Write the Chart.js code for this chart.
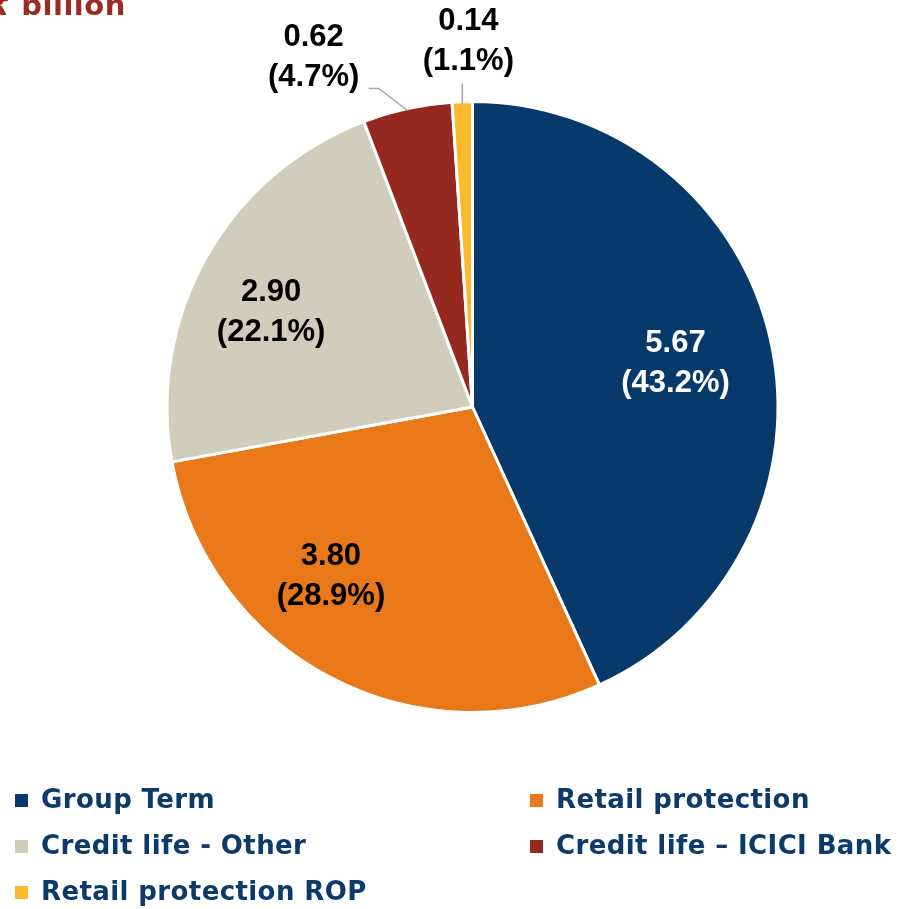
<!DOCTYPE html>
<html>
<head>
<meta charset="utf-8">
<script src="https://cdn.jsdelivr.net/npm/chart.js@4.4.1/dist/chart.umd.min.js"></script>
<style>
  body { margin: 0; background: #fff; overflow: hidden; }
  #wrap { position: relative; width: 905px; height: 909px; }
  #title { position: absolute; left: -10px; top: -12px; font: bold 29px "DejaVu Sans"; color: #9E2B22; letter-spacing: 0.5px; white-space: nowrap; }
  #legend { position: absolute; left: 15px; top: 782px; width: 890px; display: grid; grid-template-columns: 515px 375px; row-gap: 12px; }
  .item { font: bold 26px "DejaVu Sans"; color: #0B3A6B; letter-spacing: 0.4px; white-space: nowrap; height: 34px; line-height: 34px; }
  .box { display: inline-block; width: 13px; height: 13px; margin-right: 13px; vertical-align: 1px; }
</style>
</head>
<body>
<div id="wrap">
  <canvas id="chart"></canvas>
  <div id="title">₹ billion</div>
  <div id="legend"></div>
</div>
<script>
var categories = ["Group Term", "Retail protection", "Credit life - Other", "Credit life \u2013 ICICI Bank", "Retail protection ROP"];
var values = [5.67, 3.80, 2.90, 0.62, 0.14];
var shares = ["43.2%", "28.9%", "22.1%", "4.7%", "1.1%"];
var colors = ["#073A6A", "#E87818", "#D0CDBB", "#96291F", "#FDB92C"];

// label placement per slice (inside ones: angle fraction + radius fraction; outside ones: leader line)
var labelCfg = [
  { inside: true, af: 0.5, rf: 0.68, color: "#fff" },
  { inside: true, af: 0.62, rf: 0.72, color: "#000" },
  { inside: true, af: 0.45, rf: 0.73, color: "#000" },
  { inside: false, elbow: [-29, -22], tail: -10, text: [-55, -51], color: "#000" },
  { inside: false, elbow: [0, -20], tail: 0, text: [6, -62], color: "#000" }
];

var pieLabels = {
  id: "pieLabels",
  afterDatasetsDraw: function (chart) {
    var ctx = chart.ctx;
    var meta = chart.getDatasetMeta(0);
    ctx.save();
    ctx.font = "bold 31px 'Liberation Sans'";
    ctx.textAlign = "center";
    ctx.textBaseline = "middle";
    meta.data.forEach(function (arc, i) {
      var p = arc.getProps(["x", "y", "startAngle", "endAngle", "outerRadius"], true);
      var c = labelCfg[i];
      var l1 = values[i].toFixed(2), l2 = "(" + shares[i] + ")";
      ctx.fillStyle = c.color;
      if (c.inside) {
        var a = p.startAngle + (p.endAngle - p.startAngle) * c.af;
        var r = p.outerRadius * c.rf;
        var tx = p.x + Math.cos(a) * r, ty = p.y + Math.sin(a) * r;
        ctx.fillText(l1, tx, ty - 19);
        ctx.fillText(l2, tx, ty + 21);
      } else {
        var m = (p.startAngle + p.endAngle) / 2;
        var ex = p.x + Math.cos(m) * (p.outerRadius - 2), ey = p.y + Math.sin(m) * (p.outerRadius - 2);
        var bx = ex + c.elbow[0], by = ey + c.elbow[1];
        var fx = bx + c.tail;
        ctx.strokeStyle = "#A6A6A6";
        ctx.lineWidth = 1.5;
        ctx.beginPath();
        ctx.moveTo(ex, ey);
        ctx.lineTo(bx, by);
        ctx.lineTo(fx, by);
        ctx.stroke();
        var cx = fx + c.text[0], cy = by + c.text[1];
        ctx.fillText(l1, cx, cy);
        ctx.fillText(l2, cx, cy + 40);
      }
    });
    ctx.restore();
  }
};

new Chart(document.getElementById("chart"), {
  type: "pie",
  data: {
    labels: categories,
    datasets: [{
      data: values,
      backgroundColor: colors,
      borderColor: "#fff",
      borderWidth: 3
    }]
  },
  options: {
    responsive: true,
    maintainAspectRatio: false,
    animation: false,
    layout: { padding: { left: 40, right: 0, top: 100, bottom: 195 } },
    plugins: {
      legend: { display: false },
      tooltip: { enabled: false }
    }
  },
  plugins: [pieLabels]
});

var legend = document.getElementById("legend");
categories.forEach(function (name, i) {
  var d = document.createElement("div");
  d.className = "item";
  d.innerHTML = '<span class="box" style="background:' + colors[i] + '"></span>' + name;
  legend.appendChild(d);
});
</script>
</body>
</html>
